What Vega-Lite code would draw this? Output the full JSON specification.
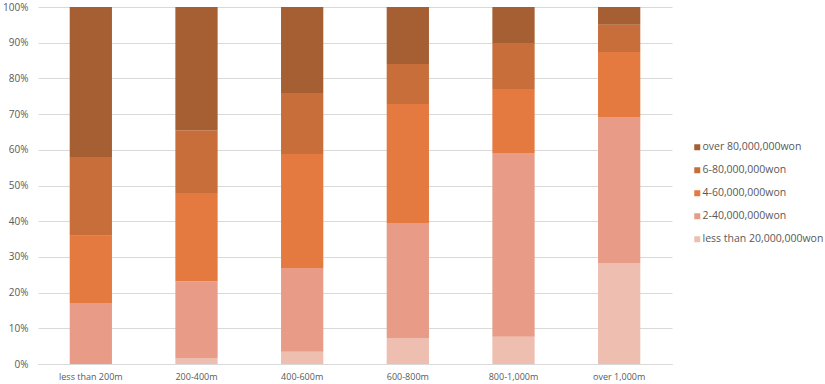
{
  "$schema": "https://vega.github.io/schema/vega-lite/v6.json",
  "width": 634,
  "height": 357,
  "autosize": {"type": "none"},
  "padding": {"left": 38, "top": 7, "right": 153, "bottom": 20},
  "background": "white",
  "config": {
    "view": {"stroke": null},
    "font": "Open Sans",
    "axis": {"labelColor": "#595959", "gridColor": "#d9d9d9", "domainColor": "#d9d9d9", "ticks": false, "titleColor": "#595959"},
    "legend": {"labelColor": "#595959"}
  },
  "data": {
    "values": [
      {"distance": "less than 200m", "income": "less than 20,000,000won", "k": 1, "share": 0.0},
      {"distance": "less than 200m", "income": "2-40,000,000won", "k": 2, "share": 17.1},
      {"distance": "less than 200m", "income": "4-60,000,000won", "k": 3, "share": 18.8},
      {"distance": "less than 200m", "income": "6-80,000,000won", "k": 4, "share": 22.1},
      {"distance": "less than 200m", "income": "over 80,000,000won", "k": 5, "share": 42.0},
      {"distance": "200-400m", "income": "less than 20,000,000won", "k": 1, "share": 1.7},
      {"distance": "200-400m", "income": "2-40,000,000won", "k": 2, "share": 21.5},
      {"distance": "200-400m", "income": "4-60,000,000won", "k": 3, "share": 24.7},
      {"distance": "200-400m", "income": "6-80,000,000won", "k": 4, "share": 17.6},
      {"distance": "200-400m", "income": "over 80,000,000won", "k": 5, "share": 34.5},
      {"distance": "400-600m", "income": "less than 20,000,000won", "k": 1, "share": 3.4},
      {"distance": "400-600m", "income": "2-40,000,000won", "k": 2, "share": 23.5},
      {"distance": "400-600m", "income": "4-60,000,000won", "k": 3, "share": 31.9},
      {"distance": "400-600m", "income": "6-80,000,000won", "k": 4, "share": 17.1},
      {"distance": "400-600m", "income": "over 80,000,000won", "k": 5, "share": 24.1},
      {"distance": "600-800m", "income": "less than 20,000,000won", "k": 1, "share": 7.3},
      {"distance": "600-800m", "income": "2-40,000,000won", "k": 2, "share": 32.2},
      {"distance": "600-800m", "income": "4-60,000,000won", "k": 3, "share": 33.3},
      {"distance": "600-800m", "income": "6-80,000,000won", "k": 4, "share": 11.2},
      {"distance": "600-800m", "income": "over 80,000,000won", "k": 5, "share": 16.0},
      {"distance": "800-1,000m", "income": "less than 20,000,000won", "k": 1, "share": 7.6},
      {"distance": "800-1,000m", "income": "2-40,000,000won", "k": 2, "share": 51.5},
      {"distance": "800-1,000m", "income": "4-60,000,000won", "k": 3, "share": 17.9},
      {"distance": "800-1,000m", "income": "6-80,000,000won", "k": 4, "share": 12.9},
      {"distance": "800-1,000m", "income": "over 80,000,000won", "k": 5, "share": 10.1},
      {"distance": "over 1,000m", "income": "less than 20,000,000won", "k": 1, "share": 28.3},
      {"distance": "over 1,000m", "income": "2-40,000,000won", "k": 2, "share": 40.9},
      {"distance": "over 1,000m", "income": "4-60,000,000won", "k": 3, "share": 18.2},
      {"distance": "over 1,000m", "income": "6-80,000,000won", "k": 4, "share": 7.6},
      {"distance": "over 1,000m", "income": "over 80,000,000won", "k": 5, "share": 5.0}
    ]
  },
  "mark": {"type": "bar"},
  "encoding": {
    "x": {
      "field": "distance",
      "type": "nominal",
      "sort": ["less than 200m", "200-400m", "400-600m", "600-800m", "800-1,000m", "over 1,000m"],
      "scale": {"paddingInner": 0.6, "paddingOuter": 0.3},
      "axis": {"title": null, "labelAngle": 0, "labelFontSize": 9, "labelPadding": 8, "domain": true, "grid": false}
    },
    "y": {
      "field": "share",
      "type": "quantitative",
      "stack": "normalize",
      "scale": {"domain": [0, 1]},
      "axis": {"title": null, "format": ".0%", "values": [0, 0.1, 0.2, 0.3, 0.4, 0.5, 0.6, 0.7, 0.8, 0.9, 1], "labelOverlap": false, "labelFontSize": 10, "labelPadding": 10, "domain": false, "grid": true}
    },
    "color": {
      "field": "income",
      "type": "nominal",
      "scale": {
        "domain": ["over 80,000,000won", "6-80,000,000won", "4-60,000,000won", "2-40,000,000won", "less than 20,000,000won"],
        "range": ["#A65F32", "#C76E3B", "#E47A40", "#E89C88", "#EEBEB0"]
      },
      "legend": {
        "title": null,
        "orient": "none",
        "legendX": 654,
        "legendY": 135,
        "padding": 0,
        "symbolType": "square",
        "symbolSize": 36,
        "symbolStrokeWidth": 0,
        "labelFontSize": 10.5,
        "labelLimit": 200,
        "labelOffset": 0,
        "rowPadding": 12
      }
    },
    "order": {"field": "k", "type": "quantitative", "sort": "ascending"}
  }
}
